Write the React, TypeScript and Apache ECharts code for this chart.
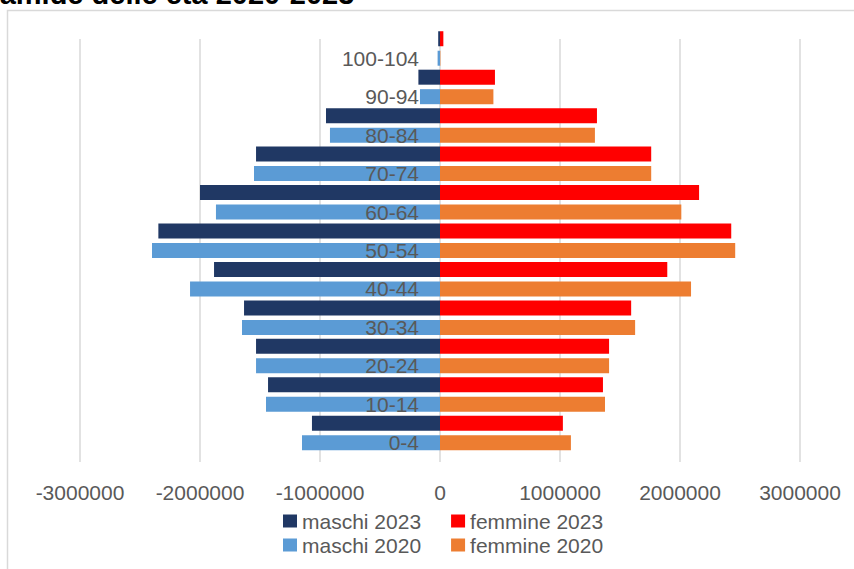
import React, { useEffect, useRef } from "react";
import * as echarts from "echarts";

const categories = ["0-4", "10-14", "20-24", "30-34", "40-44", "50-54", "60-64", "70-74", "80-84", "90-94", "100-104"];
const maschi2023 = [1067000, 1433000, 1533000, 1633000, 1883000, 2347000, 2000000, 1533000, 950000, 180000, 15000];
const maschi2020 = [1150000, 1450000, 1533000, 1650000, 2083000, 2400000, 1867000, 1550000, 917000, 167000, 20000];
const femmine2023 = [1024000, 1358000, 1409000, 1593000, 1894000, 2427000, 2159000, 1760000, 1308000, 458000, 28000];
const femmine2020 = [1091000, 1375000, 1409000, 1626000, 2092000, 2460000, 2011000, 1760000, 1291000, 445000, 3000];
const xTicks = { min: -3000000, max: 3000000, interval: 1000000 };

const FONT = "'Liberation Sans', Arial, sans-serif";
const TXT = "#595959";

export default function App() {
  const ref = useRef<HTMLDivElement>(null);
  useEffect(() => {
    if (!ref.current) return;
    const chart = echarts.init(ref.current, null, { renderer: "svg" });
    const barW = 15;
    const legendText = { color: TXT, fontSize: 21, fontFamily: FONT, lineHeight: 24 };
    chart.setOption({
      animation: false,
      backgroundColor: "#ffffff",
      textStyle: { fontFamily: FONT },
      graphic: [
        {
          type: "rect",
          shape: { x: 7.5, y: 10.5, width: 900, height: 600 },
          style: { fill: "none", stroke: "#d9d9d9", lineWidth: 1.5 },
          silent: true,
        },
        {
          type: "text",
          x: -39,
          y: -6,
          style: {
            text: "Piramide delle età 2020-2023",
            font: "bold 29px 'Liberation Sans', Arial, sans-serif",
            fill: "#000000",
            verticalAlign: "middle",
          },
        },
      ],
      legend: [
        {
          left: 278,
          top: 504,
          orient: "horizontal",
          itemWidth: 14,
          itemHeight: 13,
          itemGap: 30,
          icon: "rect",
          data: ["maschi 2023", "femmine 2023"],
          textStyle: legendText,
        },
        {
          left: 278,
          top: 528,
          orient: "horizontal",
          itemWidth: 14,
          itemHeight: 13,
          itemGap: 30,
          icon: "rect",
          data: ["maschi 2020", "femmine 2020"],
          textStyle: legendText,
        },
      ],
      grid: [
        { left: 80, right: 54, top: 39, height: 423, outerBoundsMode: "none", containLabel: false },
        { left: 80, right: 54, top: 19.5, height: 423, outerBoundsMode: "none", containLabel: false },
      ],
      xAxis: [
        {
          type: "value",
          gridIndex: 0,
          min: xTicks.min,
          max: xTicks.max,
          interval: xTicks.interval,
          axisLine: { show: false },
          axisTick: { show: false },
          splitLine: { show: true, lineStyle: { color: "#d9d9d9", width: 1.5 } },
          axisLabel: {
            color: TXT,
            fontSize: 21,
            fontFamily: FONT,
            margin: 20,
            lineHeight: 21,
            formatter: (v: number) => String(v),
          },
        },
        {
          type: "value",
          gridIndex: 1,
          min: xTicks.min,
          max: xTicks.max,
          interval: xTicks.interval,
          show: false,
          splitLine: { show: false },
        },
      ],
      yAxis: [
        {
          type: "category",
          gridIndex: 0,
          data: categories,
          position: "left",
          offset: -360,
          z: 10,
          axisLine: { show: false, onZero: false },
          axisTick: { show: false },
          axisLabel: {
            color: TXT,
            fontSize: 21,
            fontFamily: FONT,
            margin: 21,
          },
        },
        {
          type: "category",
          gridIndex: 1,
          data: categories,
          show: false,
        },
      ],
      series: [
        {
          name: "maschi 2023",
          type: "bar",
          xAxisIndex: 1,
          yAxisIndex: 1,
          stack: "y2023",
          barWidth: barW,
          itemStyle: { color: "#203864" },
          data: maschi2023.map((v) => -v),
        },
        {
          name: "femmine 2023",
          type: "bar",
          xAxisIndex: 1,
          yAxisIndex: 1,
          stack: "y2023",
          barWidth: barW,
          itemStyle: { color: "#ff0000" },
          data: femmine2023,
        },
        {
          name: "maschi 2020",
          type: "bar",
          xAxisIndex: 0,
          yAxisIndex: 0,
          stack: "y2020",
          barWidth: barW,
          itemStyle: { color: "#5b9bd5" },
          data: maschi2020.map((v) => -v),
        },
        {
          name: "femmine 2020",
          type: "bar",
          xAxisIndex: 0,
          yAxisIndex: 0,
          stack: "y2020",
          barWidth: barW,
          itemStyle: { color: "#ed7d31" },
          data: femmine2020,
        },
      ],
    });
    return () => chart.dispose();
  }, []);
  return (
    <div
      ref={ref}
      style={{ position: "fixed", left: 0, top: 0, width: 854, height: 569, background: "#fff" }}
    />
  );
}
